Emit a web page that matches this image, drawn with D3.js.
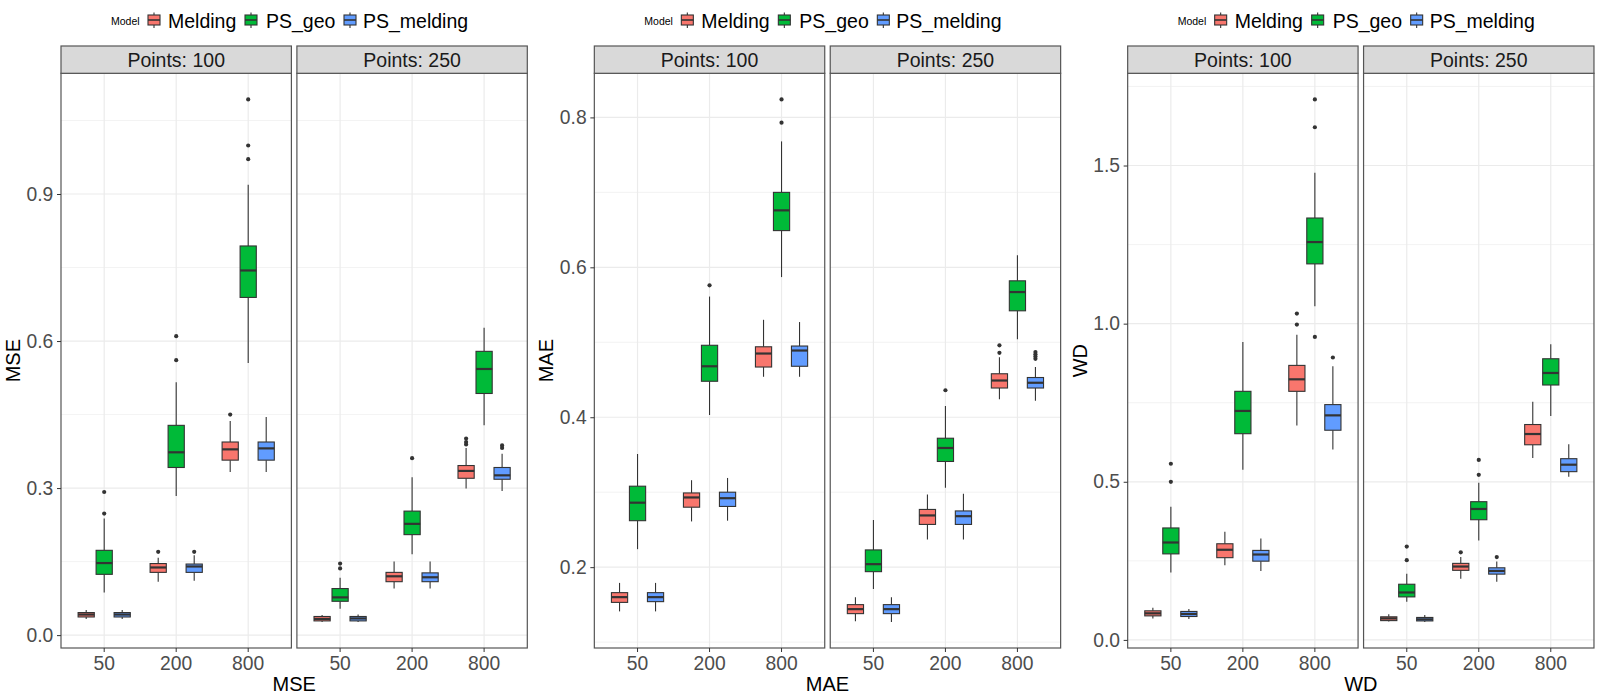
<!DOCTYPE html>
<html lang="en">
<head>
<meta charset="UTF-8">
<title>Boxplots MSE MAE WD</title>
<script src="https://d3js.org/d3.v7.min.js"></script>
<style>
  body { margin: 0; background: #fff; }
  svg { display: block; font-family: "Liberation Sans", Arial, sans-serif; }
  .tick text { fill: #4d4d4d; font-size: 19.3px; }
  .tick line { stroke: #333; }
</style>
</head>
<body>
<svg id="chart" width="1600" height="700"></svg>
<script>
// categories
const models = ["Melding", "PS_geo", "PS_melding"];
const colors = ["#F8766D", "#00BA38", "#619CFF"];
const sizes = ["50", "200", "800"];
const facets = ["Points: 100", "Points: 250"];

// box stats: [lower whisker, q1, median, q3, upper whisker, outliers]
// order: facet -> size -> model
const mseBoxes = [
  [0.033, 0.037, 0.042, 0.046, 0.051, []],
  [0.087, 0.124, 0.147, 0.173, 0.238, [0.248, 0.292]],
  [0.033, 0.037, 0.042, 0.046, 0.051, []],
  [0.109, 0.128, 0.138, 0.146, 0.158, [0.170]],
  [0.284, 0.342, 0.373, 0.428, 0.516, [0.561, 0.610]],
  [0.111, 0.128, 0.140, 0.145, 0.163, [0.170]],
  [0.333, 0.357, 0.379, 0.394, 0.437, [0.450]],
  [0.555, 0.689, 0.744, 0.794, 0.919, [0.971, 0.999, 1.093]],
  [0.333, 0.357, 0.381, 0.394, 0.445, []],
  [0.027, 0.029, 0.033, 0.038, 0.041, []],
  [0.054, 0.069, 0.077, 0.095, 0.117, [0.136, 0.146]],
  [0.027, 0.029, 0.034, 0.038, 0.042, []],
  [0.095, 0.109, 0.120, 0.128, 0.150, []],
  [0.165, 0.205, 0.227, 0.253, 0.322, [0.361]],
  [0.095, 0.109, 0.118, 0.127, 0.150, []],
  [0.299, 0.320, 0.335, 0.346, 0.382, [0.389, 0.394, 0.401]],
  [0.428, 0.493, 0.543, 0.579, 0.627, []],
  [0.294, 0.318, 0.326, 0.342, 0.370, [0.382, 0.387]]
];
const maeBoxes = [
  [0.141, 0.153, 0.160, 0.166, 0.179, []],
  [0.224, 0.262, 0.286, 0.308, 0.351, []],
  [0.141, 0.154, 0.160, 0.166, 0.179, []],
  [0.261, 0.280, 0.293, 0.299, 0.316, []],
  [0.403, 0.448, 0.468, 0.496, 0.561, [0.576]],
  [0.262, 0.281, 0.292, 0.300, 0.319, []],
  [0.454, 0.467, 0.485, 0.494, 0.530, []],
  [0.587, 0.649, 0.676, 0.700, 0.768, [0.793, 0.824]],
  [0.454, 0.468, 0.489, 0.495, 0.527, []],
  [0.128, 0.138, 0.144, 0.150, 0.160, []],
  [0.171, 0.194, 0.204, 0.223, 0.263, []],
  [0.127, 0.138, 0.144, 0.150, 0.160, []],
  [0.237, 0.257, 0.269, 0.277, 0.297, []],
  [0.306, 0.341, 0.359, 0.372, 0.415, [0.436]],
  [0.237, 0.257, 0.268, 0.275, 0.298, []],
  [0.424, 0.439, 0.449, 0.458, 0.480, [0.486, 0.496]],
  [0.504, 0.542, 0.567, 0.582, 0.616, []],
  [0.422, 0.439, 0.446, 0.453, 0.467, [0.478, 0.481, 0.484, 0.487]]
];
const wdBoxes = [
  [0.068, 0.076, 0.084, 0.092, 0.102, []],
  [0.213, 0.272, 0.308, 0.354, 0.421, [0.500, 0.557]],
  [0.066, 0.074, 0.082, 0.090, 0.098, []],
  [0.236, 0.260, 0.285, 0.304, 0.342, []],
  [0.538, 0.652, 0.724, 0.786, 0.942, []],
  [0.218, 0.249, 0.270, 0.283, 0.321, []],
  [0.678, 0.786, 0.824, 0.868, 0.965, [0.997, 1.032]],
  [1.055, 1.189, 1.258, 1.334, 1.477, [0.958, 1.621, 1.709]],
  [0.602, 0.663, 0.710, 0.744, 0.865, [0.893]],
  [0.058, 0.061, 0.068, 0.073, 0.081, []],
  [0.121, 0.136, 0.150, 0.176, 0.209, [0.252, 0.295]],
  [0.057, 0.060, 0.065, 0.071, 0.079, []],
  [0.193, 0.220, 0.232, 0.242, 0.262, [0.277]],
  [0.314, 0.380, 0.414, 0.437, 0.497, [0.522, 0.569]],
  [0.184, 0.208, 0.218, 0.228, 0.248, [0.262]],
  [0.575, 0.617, 0.651, 0.681, 0.753, []],
  [0.708, 0.806, 0.844, 0.889, 0.935, []],
  [0.516, 0.532, 0.554, 0.573, 0.619, []]
];

// tick labels
const mseTicks = [0.0, 0.3, 0.6, 0.9];
const maeTicks = [0.2, 0.4, 0.6, 0.8];
const wdTicks = [0.0, 0.5, 1.0, 1.5];

const plots = [
  { title: "MSE", boxes: mseBoxes, ticks: mseTicks },
  { title: "MAE", boxes: maeBoxes, ticks: maeTicks },
  { title: "WD", boxes: wdBoxes, ticks: wdTicks }
];

// layout
const plotW = 1600 / 3;
const panelLeft = 61, panelRight = 527.3, facetGap = 5.5;
const stripTop = 46, panelTop = 73.3, panelBottom = 648;
const facetW = (panelRight - panelLeft - facetGap) / 2;
const border = "#555";

const svg = d3.select("#chart");

plots.forEach((p, pi) => {
  const g = svg.append("g").attr("transform", `translate(${pi * plotW},0)`);

  // shared y scale, ggplot style 5% expansion
  const all = p.boxes.flatMap(b => [b[0], b[4], ...b[5]]);
  const lo = d3.min(all), hi = d3.max(all);
  const ext = (hi - lo) * 0.05;
  const y = d3.scaleLinear().domain([lo - ext, hi + ext]).range([panelBottom, panelTop]);

  const step = p.ticks[1] - p.ticks[0];
  const minor = d3.range(p.ticks[0] - step / 2, hi + ext + step, step)
    .filter(v => v > lo - ext && v < hi + ext);

  facets.forEach((f, fi) => {
    const x0 = panelLeft + fi * (facetW + facetGap);
    const x = d3.scaleBand().domain(sizes).range([x0, x0 + facetW])
      .paddingInner(0).paddingOuter(0.1);
    const dodge = d3.scaleBand().domain(models)
      .range([-0.375 * x.bandwidth(), 0.375 * x.bandwidth()]);
    const boxW = dodge.bandwidth() * 0.9;

    const fg = g.append("g");

    // grid
    fg.selectAll(".minor").data(minor).join("line")
      .attr("x1", x0).attr("x2", x0 + facetW)
      .attr("y1", d => y(d)).attr("y2", d => y(d))
      .attr("stroke", "#ebebeb").attr("stroke-width", 0.6);
    fg.selectAll(".major").data(p.ticks).join("line")
      .attr("x1", x0).attr("x2", x0 + facetW)
      .attr("y1", d => y(d)).attr("y2", d => y(d))
      .attr("stroke", "#ebebeb").attr("stroke-width", 1.2);
    fg.selectAll(".vgrid").data(sizes).join("line")
      .attr("x1", d => x(d) + x.bandwidth() / 2).attr("x2", d => x(d) + x.bandwidth() / 2)
      .attr("y1", panelTop).attr("y2", panelBottom)
      .attr("stroke", "#ebebeb").attr("stroke-width", 1.2);

    // boxes
    const rows = p.boxes.slice(fi * 9, fi * 9 + 9).map((b, k) => ({
      size: sizes[Math.floor(k / 3)], mi: k % 3,
      lo: b[0], q1: b[1], med: b[2], q3: b[3], hi: b[4], out: b[5]
    }));
    const cx = d => x(d.size) + x.bandwidth() / 2 + dodge(models[d.mi]) + dodge.bandwidth() / 2;

    const bg = fg.selectAll(".box").data(rows).join("g");
    bg.append("line")
      .attr("x1", cx).attr("x2", cx)
      .attr("y1", d => y(d.hi)).attr("y2", d => y(d.q3))
      .attr("stroke", "#333").attr("stroke-width", 1.1);
    bg.append("line")
      .attr("x1", cx).attr("x2", cx)
      .attr("y1", d => y(d.q1)).attr("y2", d => y(d.lo))
      .attr("stroke", "#333").attr("stroke-width", 1.1);
    bg.append("rect")
      .attr("x", d => cx(d) - boxW / 2).attr("width", boxW)
      .attr("y", d => y(d.q3)).attr("height", d => y(d.q1) - y(d.q3))
      .attr("fill", d => colors[d.mi])
      .attr("stroke", "#333").attr("stroke-width", 1.1);
    bg.append("line")
      .attr("x1", d => cx(d) - boxW / 2).attr("x2", d => cx(d) + boxW / 2)
      .attr("y1", d => y(d.med)).attr("y2", d => y(d.med))
      .attr("stroke", "#333").attr("stroke-width", 2.2);
    bg.selectAll("circle").data(d => d.out.map(v => ({ v, c: cx(d) }))).join("circle")
      .attr("cx", d => d.c).attr("cy", d => y(d.v)).attr("r", 2.1)
      .attr("fill", "#333");

    // panel border
    fg.append("rect")
      .attr("x", x0).attr("y", panelTop).attr("width", facetW).attr("height", panelBottom - panelTop)
      .attr("fill", "none").attr("stroke", border).attr("stroke-width", 1.2);

    // strip
    fg.append("rect")
      .attr("x", x0).attr("y", stripTop).attr("width", facetW).attr("height", panelTop - stripTop)
      .attr("fill", "#d9d9d9").attr("stroke", border).attr("stroke-width", 1.2);
    fg.append("text")
      .attr("x", x0 + facetW / 2).attr("y", 66.5)
      .attr("text-anchor", "middle").attr("fill", "#1a1a1a").attr("font-size", 19.5)
      .text(f);

    // x axis
    const xa = fg.append("g").attr("transform", `translate(0,${panelBottom})`)
      .call(d3.axisBottom(x).tickSize(4).tickSizeOuter(0).tickPadding(4.5));
    xa.select(".domain").remove();
  });

  // y axis
  const ya = g.append("g").attr("transform", `translate(${panelLeft},0)`)
    .call(d3.axisLeft(y).tickValues(p.ticks).tickFormat(d3.format(".1f"))
      .tickSize(4).tickPadding(3.7));
  ya.select(".domain").remove();

  // axis titles
  g.append("text")
    .attr("x", (panelLeft + panelRight) / 2).attr("y", 690.5)
    .attr("text-anchor", "middle").attr("font-size", 20).attr("fill", "#000")
    .text(p.title);
  g.append("text")
    .attr("transform", `translate(20,${(panelTop + panelBottom) / 2}) rotate(-90)`)
    .attr("text-anchor", "middle").attr("font-size", 20).attr("fill", "#000")
    .text(p.title);

  // legend
  const lg = g.append("g");
  lg.append("text").attr("x", 111).attr("y", 24.5)
    .attr("font-size", 10.5).attr("fill", "#000").text("Model");
  const keyX = [154, 251, 350];
  const labX = [168, 266, 363];
  models.forEach((m, mi) => {
    const k = lg.append("g").attr("transform", `translate(${keyX[mi]},0)`);
    k.append("line").attr("x1", 0).attr("x2", 0).attr("y1", 12.5).attr("y2", 28)
      .attr("stroke", "#333").attr("stroke-width", 1.1);
    k.append("rect").attr("x", -6).attr("y", 15).attr("width", 12).attr("height", 10)
      .attr("fill", colors[mi]).attr("stroke", "#333").attr("stroke-width", 1.1);
    k.append("line").attr("x1", -6).attr("x2", 6).attr("y1", 20).attr("y2", 20)
      .attr("stroke", "#333").attr("stroke-width", 1.6);
    lg.append("text").attr("x", labX[mi]).attr("y", 28)
      .attr("font-size", 19.5).attr("fill", "#000").text(m);
  });
});
</script>
</body>
</html>
